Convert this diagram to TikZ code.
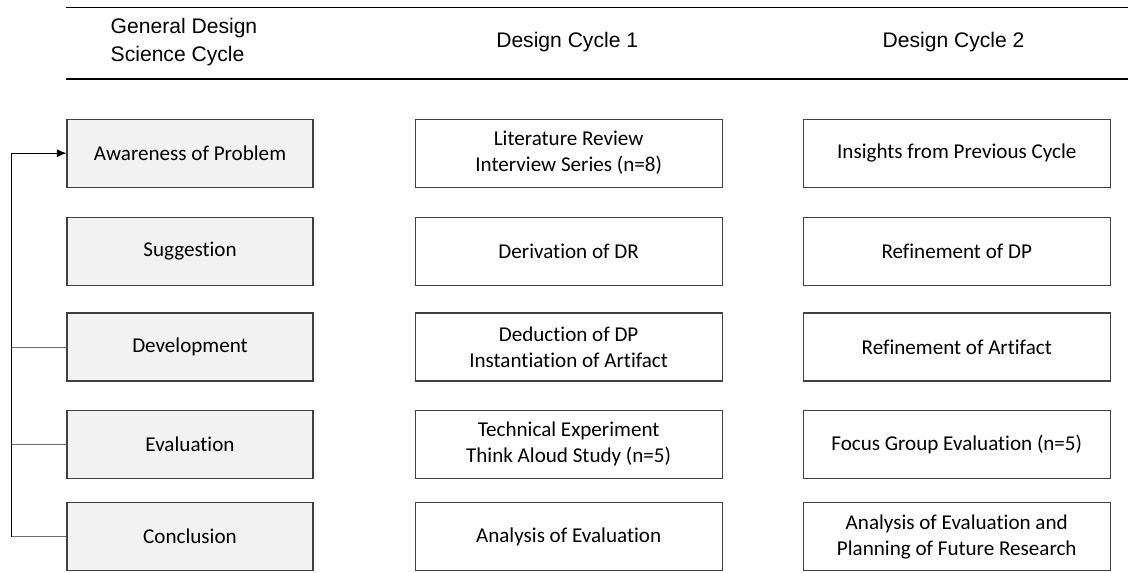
\documentclass[tikz,border=0pt]{standalone}
\usepackage{fontspec}
\setmainfont{Carlito}[Ligatures=NoCommon]
\newfontfamily\headfont{Liberation Sans}
\usetikzlibrary{arrows.meta, positioning}
\definecolor{GrisCaja}{RGB}{242,242,242}
\definecolor{GrisBorde}{RGB}{64,64,64}
\definecolor{GrisLinea}{RGB}{110,110,110}

\begin{document}
\begin{tikzpicture}[
  font=\fontsize{15}{18.5}\selectfont,
  >={Latex[length=2.4mm, width=2mm]},
  fase/.style={draw=GrisBorde, line width=0.8pt, fill=GrisCaja, align=center,
    minimum width=6.15cm, minimum height=1.7cm, inner sep=0pt},
  ciclo/.style={draw=GrisBorde, line width=0.8pt, fill=white, align=center,
    minimum width=7.675cm, minimum height=1.7cm, inner sep=0pt},
  titulo/.style={font=\headfont\fontsize{15}{19.5}\selectfont, align=left, inner sep=0pt},
  retorno/.style={line width=0.6pt, GrisLinea},
]
\useasboundingbox (0,0) rectangle (28.2,-14.325);

% --- Cabecera ---
\draw[line width=0.6pt] (1.66,-0.18) -- (28.2,-0.18);
\draw[line width=1.3pt] (1.66,-1.98) -- (28.2,-1.98);
\node[titulo] (tgen) at (4.6,-1.05) {General Design\\Science Cycle};
\node[titulo] (tc1) at (14.18,-1.05) {Design Cycle 1};
\node[titulo] (tc2) at (23.84,-1.05) {Design Cycle 2};

% --- Columna general ---
\node[fase] (awar) at (4.75,-3.83) {Awareness of Problem};
\node[fase, below=0.72cm of awar] (sugg) {Suggestion};
\node[fase, below=0.67cm of sugg] (devel) {Development};
\node[fase, below=0.70cm of devel] (evalu) {Evaluation};
\node[fase, below=0.58cm of evalu] (concl) {Conclusion};

% --- Ciclo 1 ---
\node[ciclo, right=2.525cm of awar] (uno1) {Literature Review\\Interview Series (n=8)};
\node[ciclo, right=2.525cm of sugg] (uno2) {Derivation of DR};
\node[ciclo, right=2.525cm of devel] (uno3) {Deduction of DP\\Instantiation of Artifact};
\node[ciclo, right=2.525cm of evalu] (uno4) {Technical Experiment\\Think Aloud Study (n=5)};
\node[ciclo, right=2.525cm of concl] (uno5) {Analysis of Evaluation};

% --- Ciclo 2 ---
\node[ciclo, right=2cm of uno1] (dos1) {Insights from Previous Cycle};
\node[ciclo, right=2cm of uno2] (dos2) {Refinement of DP};
\node[ciclo, right=2cm of uno3] (dos3) {Refinement of Artifact};
\node[ciclo, right=2cm of uno4] (dos4) {Focus Group Evaluation (n=5)};
\node[ciclo, right=2cm of uno5] (dos5) {Analysis of Evaluation and\\Planning of Future Research};

% --- Vuelta al inicio ---
\coordinate (codo) at (0.29,0 |- concl.west);
\draw[retorno] (concl.west) -- (codo);
\draw[line width=0.6pt, ->] (codo) -- (codo |- awar.west) -- (awar.west);
\draw[retorno] (devel.west) -- (devel.west -| codo);
\draw[retorno] (evalu.west) -- (evalu.west -| codo);

\end{tikzpicture}
\end{document}
